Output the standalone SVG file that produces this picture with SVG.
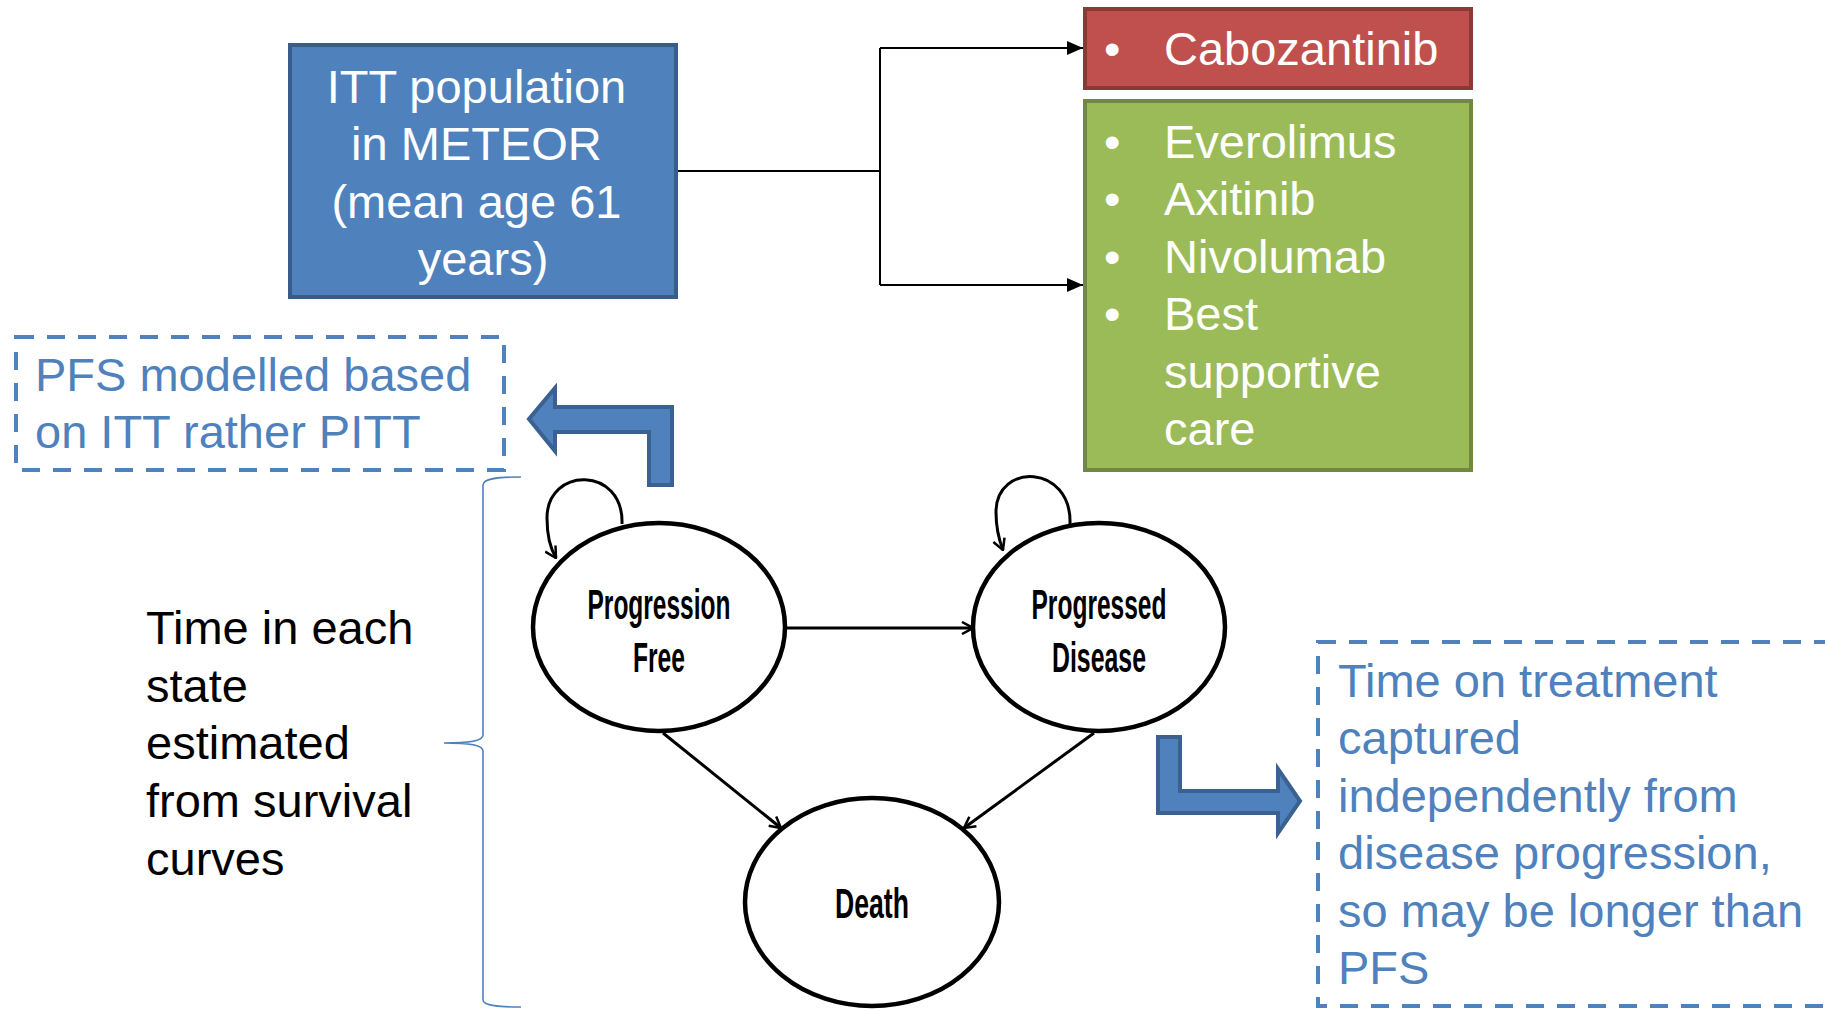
<svg xmlns="http://www.w3.org/2000/svg" width="1825" height="1009" viewBox="0 0 1825 1009">
  <style>
    .txt { font-family: "Liberation Sans", Arial, sans-serif; font-size: 47px; }
    .white { fill: #ffffff; }
    .blue { fill: #4f81bd; }
    .black { fill: #000000; }
    .bullet { font-family: "Liberation Sans", Arial, sans-serif; font-size: 47px; fill: #ffffff; }
    .state { font-family: "Liberation Sans Narrow", "Liberation Sans", Arial, sans-serif; font-size: 42px; font-weight: bold; fill: #000; }
    .ellipse { fill: #ffffff; stroke: #000; stroke-width: 4.5; }
    .dashed { fill: none; stroke: #4f81bd; stroke-width: 4; stroke-dasharray: 18 13; }
    .bent { fill: #4f81bd; stroke: #3a6190; stroke-width: 4; stroke-linejoin: miter; }
    .link { fill: none; stroke: #000; stroke-width: 2; }
    .trans { fill: none; stroke: #000; stroke-width: 3; }
  </style>
  <defs>
    <marker id="solidHead" viewBox="0 0 16 14" refX="16" refY="7" markerWidth="16" markerHeight="14" markerUnits="userSpaceOnUse" orient="auto">
      <path d="M0,0 L16,7 L0,14 Z" fill="#000"/>
    </marker>
    <marker id="openHead" viewBox="0 0 14 14" refX="13" refY="7" markerWidth="14" markerHeight="14" markerUnits="userSpaceOnUse" orient="auto">
      <path d="M2,1 L13,7 L2,13" fill="none" stroke="#000" stroke-width="2.5"/>
    </marker>
  </defs>

  <!-- treatment split connectors -->
  <g id="connectors">
    <path class="link" d="M677,171 H880 M880,48 V285"/>
    <path class="link" d="M880,48 H1083" marker-end="url(#solidHead)"/>
    <path class="link" d="M880,285 H1083" marker-end="url(#solidHead)"/>
    <!-- state transitions -->
    <path class="trans" d="M786,628 H973" marker-end="url(#openHead)"/>
    <path class="trans" d="M663,733 L781,828" marker-end="url(#openHead)"/>
    <path class="trans" d="M1094,733 L964,828" marker-end="url(#openHead)"/>
    <path class="trans" d="M622,524 C624,466 547,466 547,518 C547,536 550,548 556,558" marker-end="url(#openHead)"/>
    <path class="trans" d="M1070,524 C1072,464 996,462 996,512 C996,530 999,540 1003,550" marker-end="url(#openHead)"/>
  </g>

  <g id="itt-population">
    <rect x="290" y="45" width="386" height="252" fill="#4f81bd" stroke="#385d8a" stroke-width="4"/>
    <text class="txt white" text-anchor="middle">
      <tspan x="483" y="103">ITT population</tspan>
      <tspan x="483" y="160">in METEOR</tspan>
      <tspan x="483" y="218">(mean age 61</tspan>
      <tspan x="483" y="275">years)</tspan>
    </text>
  </g>

  <g id="cabozantinib">
    <rect x="1085" y="9" width="386" height="79" fill="#c0504d" stroke="#8c3836" stroke-width="4"/>
    <text class="bullet" x="1104" y="65">•</text>
    <text class="txt white" x="1164" y="65">Cabozantinib</text>
  </g>

  <g id="comparators">
    <rect x="1085" y="101" width="386" height="369" fill="#9bbb59" stroke="#71893f" stroke-width="4"/>
    <text class="bullet" x="1104" y="158">•</text>
    <text class="bullet" x="1104" y="215">•</text>
    <text class="bullet" x="1104" y="273">•</text>
    <text class="bullet" x="1104" y="330">•</text>
    <text class="txt white">
      <tspan x="1164" y="158">Everolimus</tspan>
      <tspan x="1164" y="215">Axitinib</tspan>
      <tspan x="1164" y="273">Nivolumab</tspan>
      <tspan x="1164" y="330">Best</tspan>
      <tspan x="1164" y="388">supportive</tspan>
      <tspan x="1164" y="445">care</tspan>
    </text>
  </g>

  <g id="pfs-note">
    <rect class="dashed" x="16" y="337" width="488" height="133"/>
    <text class="txt blue">
      <tspan x="35" y="391">PFS modelled based</tspan>
      <tspan x="35" y="448">on ITT rather PITT</tspan>
    </text>
  </g>

  <g id="pfs-arrow">
    <polygon class="bent" points="529,419 555,388 555,407 672,407 672,485 649,485 649,432 555,432 555,451"/>
  </g>

  <g id="time-in-state">
    <text class="txt black">
      <tspan x="146" y="644">Time in each</tspan>
      <tspan x="146" y="702">state</tspan>
      <tspan x="146" y="759">estimated</tspan>
      <tspan x="146" y="817">from survival</tspan>
      <tspan x="146" y="875">curves</tspan>
    </text>
    <path d="M521,477 C500,477 483,478 483,485 V735 C483,741 470,743 444,743 C470,743 483,745 483,751 V1000 C483,1006 500,1007 521,1007" fill="none" stroke="#4f81bd" stroke-width="1.6"/>
  </g>

  <g id="progression-free">
    <ellipse class="ellipse" cx="659" cy="627" rx="126" ry="104"/>
    <text class="state" x="659" y="619" text-anchor="middle" textLength="143" lengthAdjust="spacingAndGlyphs">Progression</text>
    <text class="state" x="659" y="672" text-anchor="middle" textLength="52" lengthAdjust="spacingAndGlyphs">Free</text>
  </g>

  <g id="progressed-disease">
    <ellipse class="ellipse" cx="1099" cy="627" rx="126" ry="104"/>
    <text class="state" x="1099" y="619" text-anchor="middle" textLength="135" lengthAdjust="spacingAndGlyphs">Progressed</text>
    <text class="state" x="1099" y="672" text-anchor="middle" textLength="94" lengthAdjust="spacingAndGlyphs">Disease</text>
  </g>

  <g id="death">
    <ellipse class="ellipse" cx="872" cy="902" rx="127" ry="104"/>
    <text class="state" x="872" y="918" text-anchor="middle" textLength="74" lengthAdjust="spacingAndGlyphs">Death</text>
  </g>

  <g id="treatment-arrow">
    <polygon class="bent" points="1158,737 1180,737 1180,791 1278,791 1278,769 1300,801 1278,833 1278,813 1158,813"/>
  </g>

  <g id="treatment-note">
    <rect class="dashed" x="1318" y="642" width="520" height="364"/>
    <text class="txt blue">
      <tspan x="1338" y="697">Time on treatment</tspan>
      <tspan x="1338" y="754">captured</tspan>
      <tspan x="1338" y="812">independently from</tspan>
      <tspan x="1338" y="869">disease progression,</tspan>
      <tspan x="1338" y="927">so may be longer than</tspan>
      <tspan x="1338" y="984">PFS</tspan>
    </text>
  </g>
</svg>
